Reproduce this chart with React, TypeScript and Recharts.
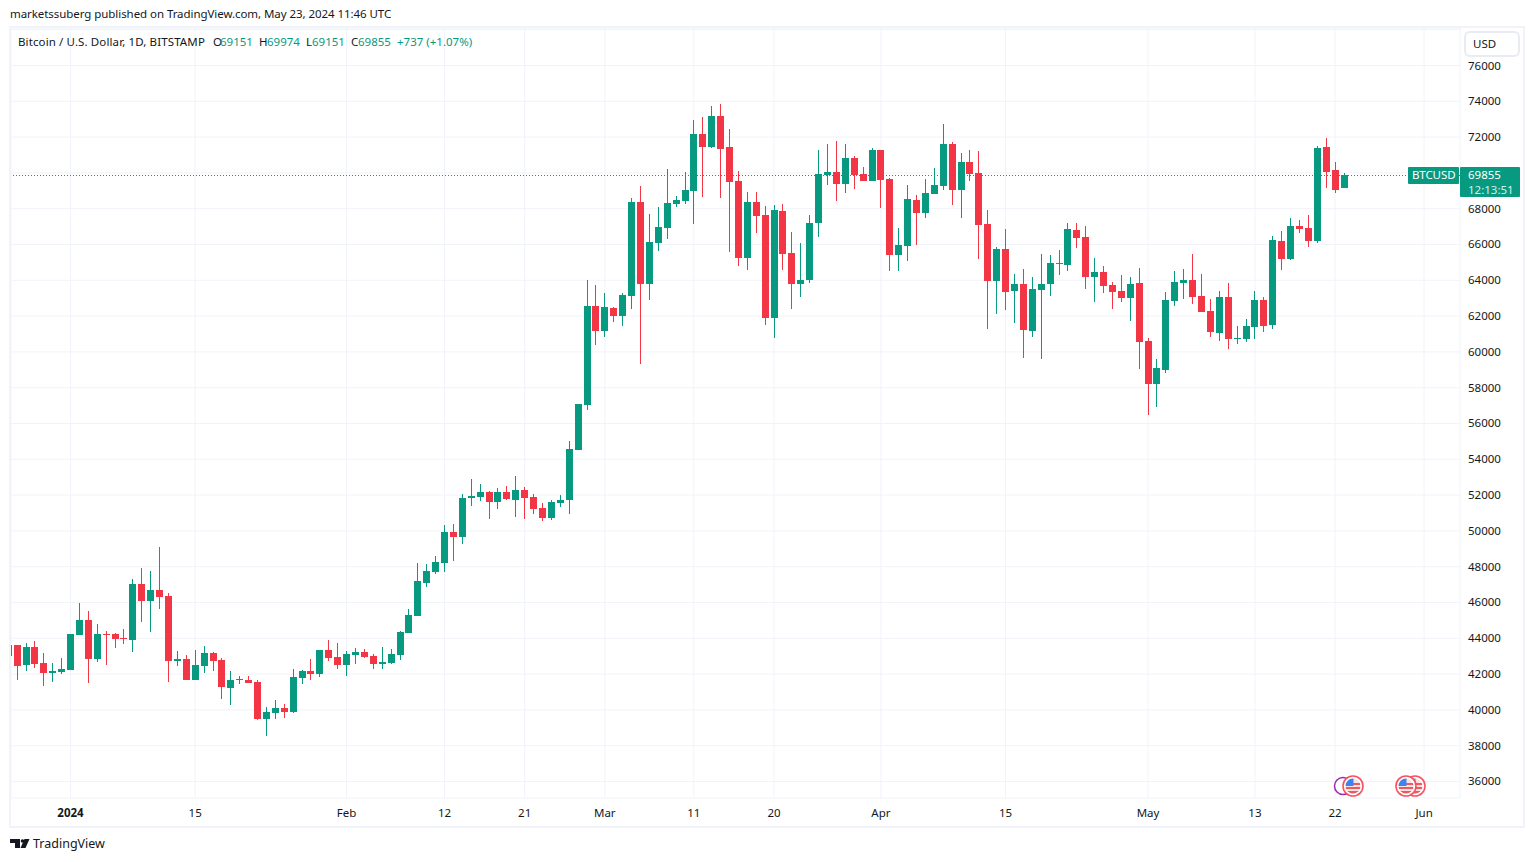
import {
  ComposedChart,
  Bar,
  XAxis,
  YAxis,
  CartesianGrid,
  ReferenceLine,
} from "recharts";

const UP = "#089981";
const DOWN = "#f23645";
const TEXT = "#131722";
const GRID = "#f0f3fa";
const FONT = "'Noto Sans', sans-serif";

// first candle is 25 Dec 2023, day 0 is 1 Jan 2024
const FIRST_DAY = -7;

const opens = [
  43010, 43624, 42507, 43512, 42619, 42060, 42116, 42228, 44183, 45021,
  42842, 44239, 44239, 44015, 43903, 47032, 46082, 46696, 46361, 42730,
  42842, 41669, 42451, 43177, 42786, 41222, 41669, 41669, 41557, 39490,
  39826, 40105, 39881, 41781, 42172, 42004, 43345, 42954, 42507, 43065,
  43233, 43010, 42563, 42619, 43065, 44294, 45244, 47114, 47728, 48231,
  49963, 49683, 51845, 51901, 52180, 51622, 52180, 51734, 52292, 51901,
  51287, 50728, 51566, 51734, 54527, 57040, 62570, 61174, 62459, 62012,
  63126, 68377, 63796, 66087, 66925, 68265, 68433, 68991, 72175, 71449,
  73181, 71449, 69550, 65249, 68377, 67651, 61897, 67874, 65528, 63796,
  64020, 67204, 69885, 70053, 69382, 70835, 69952, 69561, 71293, 69673,
  65428, 65930, 68500, 67774, 68835, 69282, 71628, 69058, 70622, 70008,
  67159, 63975, 65763, 63417, 63807, 61182, 63472, 63807, 64981, 64869,
  66824, 66433, 64198, 64478, 63751, 63417, 63026, 63863, 60623, 58221,
  59003, 62858, 63863, 64031, 63137, 62299, 61070, 63081, 60735, 60735,
  61405, 62914, 61517, 66209, 65204, 67047, 66936, 66209, 71460, 70175,
  69151,
];

const highs = [
  43624, 43624, 43736, 43848, 43177, 42619, 42898, 44239, 45970, 45523,
  44797, 44406, 44294, 44518, 47311, 47925, 47758, 49098, 46529, 43289,
  43065, 43345, 43568, 43233, 42898, 42172, 41892, 41892, 41669, 40161,
  40552, 40328, 42284, 42228, 42842, 43345, 43903, 43736, 43289, 43457,
  43401, 43122, 43512, 43401, 44406, 45635, 48205, 48175, 48622, 50354,
  50410, 52085, 52907, 52627, 52236, 52404, 52516, 53074, 52460, 52069,
  51566, 51734, 52013, 55029, 57096, 64023, 63743, 63297, 62515, 63297,
  68600, 69271, 67707, 68098, 70220, 68712, 70053, 72958, 73125, 73740,
  73851, 72455, 70109, 68936, 68936, 68153, 68209, 68265, 66701, 66087,
  67651, 71282, 71617, 71784, 71617, 70947, 70343, 71404, 71293, 69729,
  66936, 69338, 68779, 69673, 70287, 72745, 71740, 71125, 71293, 71237,
  67941, 65874, 66880, 64366, 64645, 64198, 65483, 65428, 65707, 67215,
  67215, 67047, 65260, 64813, 63919, 64310, 64198, 64701, 60791, 59618,
  63361, 64534, 64645, 65483, 64366, 62970, 63416, 63863, 61461, 61852,
  63416, 63081, 66489, 66768, 67494, 67382, 67662, 71516, 71963, 70622,
  69974,
];

const lows = [
  43010, 41669, 42172, 42339, 41334, 41557, 42004, 42228, 44183, 41501,
  42674, 42507, 43457, 43680, 43233, 44909, 44350, 45635, 41557, 42451,
  41669, 41669, 42060, 42172, 40608, 40272, 41445, 41501, 39435, 38541,
  39490, 39546, 39826, 41445, 41669, 41836, 42730, 42284, 41892, 42563,
  42898, 42284, 42284, 42563, 42786, 44294, 45244, 46890, 47617, 47728,
  48343, 49292, 51398, 51678, 50672, 51231, 51734, 50784, 50672, 50952,
  50561, 50616, 51343, 50952, 54527, 56761, 60392, 60839, 61677, 61453,
  62400, 59328, 62903, 65640, 66310, 68098, 68265, 67148, 68656, 71393,
  68600, 65584, 64802, 64579, 66645, 61506, 60780, 64579, 62400, 63070,
  63852, 66422, 69327, 68433, 68880, 69103, 69561, 69561, 68053, 64534,
  64534, 65092, 65986, 67494, 68835, 69058, 68220, 67494, 69561, 65204,
  61294, 62132, 62355, 61629, 59674, 60847, 59618, 63137, 64310, 64534,
  65818, 63528, 62802, 63305, 62411, 62802, 61741, 59059, 56490, 56937,
  58836, 62579, 62970, 62690, 62243, 60847, 60623, 60176, 60456, 60567,
  60735, 61126, 61294, 64590, 65148, 66656, 65874, 66098, 69170, 68891,
  69151,
];

const closes = [
  43624, 42451, 43512, 42563, 42060, 42172, 42283, 44239, 45021, 42842,
  44239, 44183, 43959, 43959, 47032, 46082, 46696, 46305, 42730, 42842,
  41669, 42507, 43177, 42730, 41278, 41669, 41725, 41501, 39490, 39881,
  40105, 39881, 41836, 42172, 42004, 43345, 42898, 42507, 43122, 43233,
  42954, 42563, 42674, 43122, 44350, 45300, 47199, 47784, 48287, 49963,
  49683, 51862, 51957, 52180, 51622, 52180, 51789, 52292, 51845, 51231,
  50728, 51622, 51734, 54582, 57096, 62570, 61174, 62515, 62012, 63185,
  68377, 63796, 66143, 66980, 68321, 68489, 69047, 72175, 71449, 73181,
  71338, 69494, 65249, 68377, 67595, 61897, 67930, 65472, 63796, 64020,
  67204, 69941, 70053, 69382, 70835, 69885, 69561, 71293, 69617, 65428,
  65986, 68556, 67774, 68891, 69338, 71628, 69058, 70622, 69952, 67103,
  63975, 65763, 63361, 63807, 61238, 63528, 63807, 64981, 64925, 66880,
  66377, 64198, 64478, 63696, 63361, 63026, 63807, 60568, 58221, 59115,
  62914, 63919, 64031, 63081, 62243, 61126, 63081, 60735, 60791, 61461,
  62914, 61461, 66265, 65204, 67047, 66880, 66209, 71404, 70064, 69058,
  69855,
];

const candles = opens.map((open, i) => ({
  day: FIRST_DAY + i,
  open,
  high: highs[i],
  low: lows[i],
  close: closes[i],
}));

const priceTicks = [
  36000, 38000, 40000, 42000, 44000, 46000, 48000, 50000, 52000, 54000, 56000,
  58000, 60000, 62000, 64000, 66000, 68000, 70000, 72000, 74000, 76000, 78000,
];
// 70000 and 78000 only get a grid line, their labels sit behind the price tag and USD box
const hiddenPriceLabels = [70000, 78000];

const dayTicks = [0, 14, 31, 42, 51, 60, 70, 79, 91, 105, 121, 133, 142, 152];
const dayLabels = [
  "2024", "15", "Feb", "12", "21", "Mar", "11", "20", "Apr", "15", "May", "13", "22", "Jun",
];

const lastClose = 69855;

const Candle = (props: any) => {
  const { x, y, width, height, payload } = props;
  const { open, close, high, low } = payload;
  const color = close >= open ? UP : DOWN;
  // snap to whole pixels so wicks stay crisp
  const cx = Math.floor(x + width / 2);
  const perUsd = high > low ? height / (high - low) : 0;
  const top = Math.round(y + (high - Math.max(open, close)) * perUsd);
  const bottom = Math.round(y + (high - Math.min(open, close)) * perUsd);
  const wickTop = Math.round(y);
  const wickBottom = Math.round(y + height);
  return (
    <g shapeRendering="crispEdges">
      <rect x={cx} y={wickTop} width={1} height={Math.max(wickBottom - wickTop, 1)} fill={color} />
      <rect x={cx - 3} y={top} width={7} height={Math.max(bottom - top, 1)} fill={color} />
    </g>
  );
};

const DayTick = (props: any) => {
  const { x, y, payload } = props;
  const idx = dayTicks.indexOf(payload.value);
  return (
    <text
      x={x}
      y={y + 11}
      textAnchor="middle"
      fontSize={11.5}
      fontFamily={FONT}
      fontWeight={idx === 0 ? 700 : 400}
      fill={TEXT}
    >
      {dayLabels[idx]}
    </text>
  );
};

const PriceTick = (props: any) => {
  const { y, payload } = props;
  if (hiddenPriceLabels.includes(payload.value)) return <g />;
  return (
    <text x={1468} y={y + 4} fontSize={11.5} fontFamily={FONT} fill={TEXT}>
      {payload.value}
    </text>
  );
};

const label = (left: number, top: number, text: string, color = TEXT, spacing = 0) => (
  <div
    style={{
      position: "absolute",
      left,
      top,
      fontFamily: FONT,
      fontSize: 11.5,
      lineHeight: "16px",
      letterSpacing: spacing,
      color,
      whiteSpace: "nowrap",
    }}
  >
    {text}
  </div>
);

const Flag = ({ cx, cy }: { cx: number; cy: number }) => (
  <g>
    <circle cx={cx} cy={cy} r={10} fill="#fff" stroke="#f7525f" strokeWidth={1.6} />
    <clipPath id={`flag-${cx}`}>
      <circle cx={cx} cy={cy} r={7.5} />
    </clipPath>
    <g clipPath={`url(#flag-${cx})`}>
      <rect x={cx - 8} y={cy - 8} width={16} height={16} fill="#fbe3e5" />
      <rect x={cx - 8} y={cy - 3} width={16} height={2} fill="#ee5b5f" />
      <rect x={cx - 8} y={cy + 1} width={16} height={2} fill="#ee5b5f" />
      <rect x={cx - 8} y={cy + 5} width={16} height={3} fill="#ee5b5f" />
      <rect x={cx - 8} y={cy - 8} width={8.5} height={8} fill="#3f83ee" />
    </g>
  </g>
);

export default function App() {
  return (
    <div
      style={{
        position: "absolute",
        left: 0,
        top: 0,
        width: 1534,
        height: 862,
        background: "#fff",
        overflow: "hidden",
      }}
    >
      <ComposedChart
        width={1534}
        height={862}
        data={candles}
        margin={{ top: 28, right: 0, bottom: 34, left: 11 }}
      >
        <CartesianGrid stroke={GRID} strokeWidth={1} />
        <XAxis
          dataKey="day"
          type="number"
          domain={[-6.68, 156.03]}
          allowDataOverflow
          ticks={dayTicks}
          interval={0}
          height={30}
          axisLine={false}
          tickLine={false}
          tick={<DayTick />}
        />
        <YAxis
          orientation="right"
          type="number"
          domain={[35078, 78095]}
          allowDataOverflow
          ticks={priceTicks}
          interval={0}
          width={74}
          axisLine={false}
          tickLine={false}
          tick={<PriceTick />}
        />
        <ReferenceLine y={lastClose} stroke={UP} strokeWidth={1} strokeDasharray="1 2" />
        <Bar
          dataKey={(d: any) => [d.low, d.high]}
          barSize={7}
          shape={<Candle />}
          isAnimationActive={false}
        />
      </ComposedChart>

      <div
        style={{
          position: "absolute",
          left: 9,
          top: 26,
          width: 1516,
          height: 802,
          boxSizing: "border-box",
          border: `2px solid ${GRID}`,
          pointerEvents: "none",
        }}
      />

      {label(10, 6, "marketssuberg published on TradingView.com, May 23, 2024 11:46 UTC", TEXT, -0.06)}
      {label(18, 34, "Bitcoin / U.S. Dollar, 1D, BITSTAMP", TEXT, 0.12)}
      {label(213, 34, "O")}
      {label(220, 34, "69151", UP)}
      {label(259, 34, "H")}
      {label(267, 34, "69974", UP)}
      {label(306, 34, "L")}
      {label(312, 34, "69151", UP)}
      {label(351, 34, "C")}
      {label(358, 34, "69855", UP)}
      {label(397, 34, "+737 (+1.07%)", UP)}

      <div
        style={{
          position: "absolute",
          left: 1464,
          top: 31,
          width: 56,
          height: 26,
          boxSizing: "border-box",
          border: "2px solid #e9ebf3",
          borderRadius: 6,
          background: "#fff",
        }}
      />
      {label(1473, 36, "USD")}

      <div style={{ position: "absolute", left: 1408, top: 167, width: 51, height: 17, background: UP, borderRadius: 1 }} />
      {label(1412, 167, "BTCUSD", "#fff", -0.1)}
      <div style={{ position: "absolute", left: 1460, top: 167, width: 60, height: 30, background: UP, borderRadius: 1 }} />
      {label(1468, 167, "69855", "#fff")}
      {label(1468, 182, "12:13:51", "#d6efe9")}

      <svg
        width={1534}
        height={862}
        style={{ position: "absolute", left: 0, top: 0, pointerEvents: "none" }}
      >
        <circle cx={1343} cy={786} r={8.5} fill="#fff" stroke="#9c27b0" strokeWidth={1.5} />
        <Flag cx={1353} cy={786} />
        <Flag cx={1415} cy={786} />
        <Flag cx={1406} cy={786} />
        {/* TradingView mark */}
        <path d="M10 839h10v9h-5v-5h-5z" fill={TEXT} />
        <circle cx={22.5} cy={841} r={1.8} fill={TEXT} />
        <path d="M24.5 839h5l-4 9h-5z" fill={TEXT} />
      </svg>
      <div
        style={{
          position: "absolute",
          left: 33,
          top: 836,
          fontFamily: FONT,
          fontSize: 12.5,
          lineHeight: "16px",
          color: TEXT,
        }}
      >
        TradingView
      </div>
    </div>
  );
}
